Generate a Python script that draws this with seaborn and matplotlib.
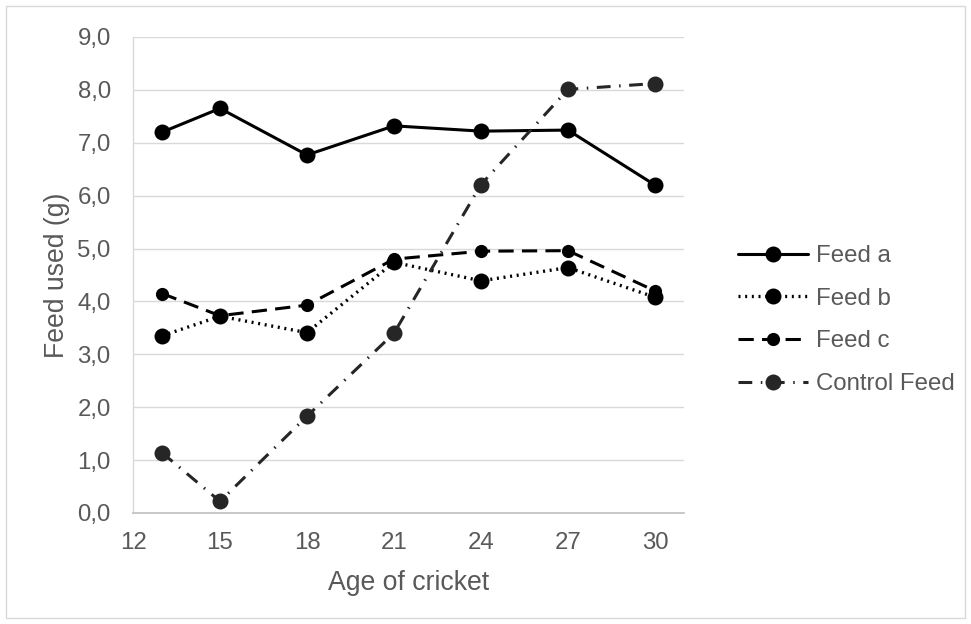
import matplotlib
matplotlib.use("Agg")
import matplotlib.pyplot as plt
from matplotlib.ticker import FuncFormatter, MultipleLocator
from matplotlib.patches import Rectangle
import pandas as pd
import seaborn as sns

# Age of cricket (days)
age = [13, 15, 18, 21, 24, 27, 30]

# Feed used (g) per feed type
feed_a = [7.20, 7.65, 6.77, 7.32, 7.22, 7.24, 6.20]
feed_b = [3.35, 3.72, 3.41, 4.74, 4.39, 4.64, 4.08]
feed_c = [4.15, 3.73, 3.93, 4.80, 4.95, 4.96, 4.20]
control = [1.14, 0.22, 1.83, 3.40, 6.21, 8.01, 8.12]

series_names = ["Feed a", "Feed b", "Feed c", "Control Feed"]
x_ticks = [12, 15, 18, 21, 24, 27, 30]

df = pd.DataFrame({
    "age": age * 4,
    "used": feed_a + feed_b + feed_c + control,
    "feed": sum([[n] * len(age) for n in series_names], []),
})

sns.set_theme(style="white")
plt.rcParams["font.family"] = ["Liberation Sans", "DejaVu Sans"]

TEXT = "#595959"
TICK_FS = 17.3
TITLE_FS = 19.2
styles = {
    "Feed a": dict(color="black", ls="-", lw=2.2, ms=11.5),
    "Feed b": dict(color="black", ls=(0, (0.6, 1.4)), lw=2.4, ms=11.5),
    "Feed c": dict(color="black", ls=(0, (5.0, 2.7)), lw=2.2, ms=9.5),
    "Control Feed": dict(color="#262626", ls=(0, (4.5, 2.8, 0.5, 2.8)), lw=2.2, ms=11.5),
}

fig = plt.figure(figsize=(9.71, 6.24), dpi=100)
fig.patches.append(Rectangle((6 / 971, 6 / 624), 959 / 971, 612 / 624,
                             transform=fig.transFigure, fill=False,
                             edgecolor="#d9d9d9", lw=1.0))
ax = fig.add_axes([133 / 971, 1 - 513 / 624, 551 / 971, 476 / 624])

for name in series_names:
    st = styles[name]
    sub = df[df["feed"] == name]
    sns.lineplot(data=sub, x="age", y="used", ax=ax, color=st["color"],
                 linestyle=st["ls"], linewidth=st["lw"], marker="o",
                 markersize=st["ms"], markeredgewidth=0,
                 markerfacecolor=st["color"], label=name,
                 dash_capstyle="butt", solid_capstyle="round")

ax.set_xlim(12, 31)
ax.set_ylim(0, 9)
ax.set_xticks(x_ticks)
ax.yaxis.set_major_locator(MultipleLocator(1))
ax.yaxis.set_major_formatter(FuncFormatter(lambda v, p: f"{v:.1f}".replace(".", ",")))
ax.grid(axis="y", color="#d9d9d9", lw=1.0)
ax.grid(axis="x", visible=False)
ax.set_axisbelow(True)
for s in ["top", "right"]:
    ax.spines[s].set_visible(False)
ax.spines["left"].set_color("#d9d9d9")
ax.spines["bottom"].set_color("#bfbfbf")
ax.spines["left"].set_linewidth(1.0)
ax.spines["bottom"].set_linewidth(1.2)
ax.tick_params(length=0, labelsize=TICK_FS, labelcolor=TEXT)
ax.tick_params(axis="y", pad=16)
ax.tick_params(axis="x", pad=14)
ax.set_xlabel("Age of cricket", fontsize=TITLE_FS, color=TEXT, labelpad=11)
ax.set_ylabel("Feed used (g)", fontsize=TITLE_FS, color=TEXT, labelpad=5)

leg = ax.legend(loc="center left", bbox_to_anchor=(738 / 971, 1 - 320 / 624),
                bbox_transform=fig.transFigure, frameon=False,
                fontsize=TICK_FS, labelcolor=TEXT, handlelength=2.9,
                handletextpad=0.33, labelspacing=0.86, borderaxespad=0,
                borderpad=0)

fig.savefig("out.png", dpi=100)
